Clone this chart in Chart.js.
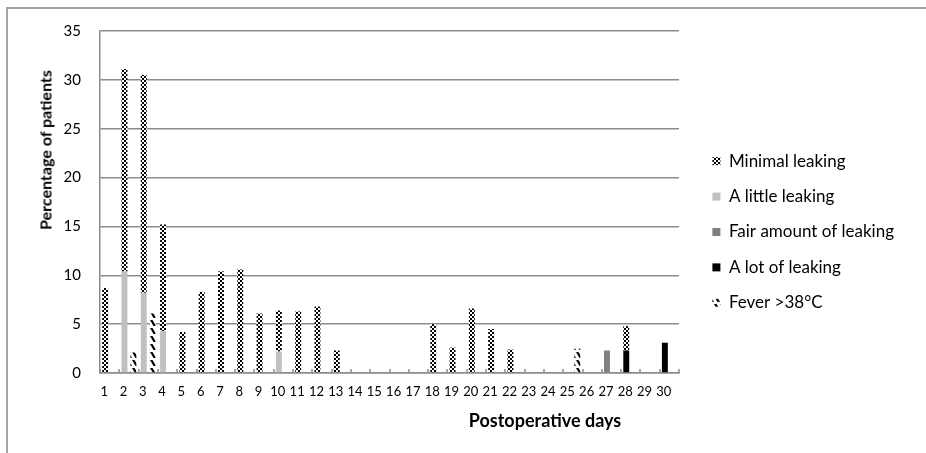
<!DOCTYPE html>
<html><head><meta charset="utf-8">
<script src="https://cdn.jsdelivr.net/npm/chart.js@4"></script>
<style>
html,body{margin:0;padding:0;background:#fff;}
#wrap{position:relative;width:926px;height:453px;overflow:hidden;}
#frame{position:absolute;left:6px;top:7px;width:1000px;height:1000px;border-left:2px solid #a5a5a5;border-top:2px solid #a5a5a5;}
canvas{position:absolute;left:0;top:0;}
.ttl{position:absolute;font-family:Lato, sans-serif;font-weight:bold;color:#000;white-space:nowrap;}
#xt{left:545px;top:420px;font-size:18px;transform:translate(-50%,-50%);}
#yt{left:45px;top:150px;font-size:16px;transform:translate(-50%,-50%) rotate(-90deg);}
</style></head>
<body><div id="wrap"><div id="frame"></div><canvas id="c" width="926" height="453"></canvas><div class="ttl" id="xt">Postoperative days</div><div class="ttl" id="yt">Percentage of patients</div></div>
<script>
const days = ['1','2','3','4','5','6','7','8','9','10','11','12','13','14','15','16','17','18','19','20','21','22','23','24','25','26','27','28','29','30'];
const minimalLeaking = [8.7,20.7,22.3,10.9,4.2,8.3,10.4,10.6,6.1,4.2,6.3,6.8,2.3,0,0,0,0,5.0,2.6,6.6,4.5,2.4,0,0,0,0,0,2.5,0,0];
const littleLeaking  = [0,10.4,8.2,4.3,0,0,0,0,0,2.2,0,0,0,0,0,0,0,0,0,0,0,0,0,0,0,0,0,0,0,0];
const fairLeaking    = [0,0,0,0,0,0,0,0,0,0,0,0,0,0,0,0,0,0,0,0,0,0,0,0,0,0,2.3,0,0,0];
const lotLeaking     = [0,0,0,0,0,0,0,0,0,0,0,0,0,0,0,0,0,0,0,0,0,0,0,0,0,0,0,2.3,0,3.1];
const fever          = [0,2.1,6.1,0,0,0,0,0,0,0,0,0,0,0,0,0,0,0,0,0,0,0,0,0,2.5,0,0,0,0,0];
const yTicks = [0,5,10,15,20,25,30,35];

const canvas = document.getElementById('c');
const ctx0 = canvas.getContext('2d');
function checkerPattern(){
  const t=document.createElement('canvas'); t.width=4; t.height=4;
  const g=t.getContext('2d'); g.fillStyle='#fff'; g.fillRect(0,0,4,4);
  g.fillStyle='#000'; g.fillRect(0,0,2,2); g.fillRect(2,2,2,2);
  return ctx0.createPattern(t,'repeat');
}
function feverPattern(){
  const t=document.createElement('canvas'); t.width=6; t.height=8;
  const g=t.getContext('2d'); g.fillStyle='#fff'; g.fillRect(0,0,6,8);
  g.fillStyle='#000'; g.beginPath(); g.moveTo(0,0); g.lineTo(2.5,0); g.lineTo(6,6); g.lineTo(3.5,6); g.closePath(); g.fill();
  return ctx0.createPattern(t,'repeat');
}

Chart.defaults.font.family = 'Lato, sans-serif';
Chart.defaults.color = '#000';

const innerTicks = {
  id:'innerTicks',
  afterDatasetsDraw(chart){
    const x=chart.scales.x, ctx=chart.ctx, b=chart.chartArea.bottom;
    ctx.save(); ctx.strokeStyle='#8c8c8c'; ctx.lineWidth=1.5; ctx.beginPath();
    for(let i=0;i<=days.length;i++){
      const px=Math.round(x.getPixelForValue(i-0.5));
      ctx.moveTo(px,b); ctx.lineTo(px,b-4);
    }
    ctx.stroke(); ctx.restore();
  }
};
const legendFix = {
  id:'legendFix',
  afterInit(chart){
    const lg = chart.legend; const orig = lg.fit;
    lg.fit = function(){ orig.call(this); this.width = 247; };
  },
  afterLayout(chart){
    const lg = chart.legend; lg.left += 15; lg.right += 15;
  }
};

const common = {borderWidth:0, categoryPercentage:0.93, barPercentage:0.66};
new Chart(canvas, {
  type:'bar',
  data:{
    labels: days,
    datasets:[
      Object.assign({label:'Minimal leaking', data:minimalLeaking, backgroundColor:checkerPattern(), stack:'leak', order:4}, common),
      Object.assign({label:'A little leaking', data:littleLeaking, backgroundColor:'#c0c0c0', stack:'leak', order:1}, common),
      Object.assign({label:'Fair amount of leaking', data:fairLeaking, backgroundColor:'#808080', stack:'leak', order:2}, common),
      Object.assign({label:'A lot of leaking', data:lotLeaking, backgroundColor:'#000000', stack:'leak', order:3}, common),
      Object.assign({label:'Fever >38°C', data:fever, backgroundColor:feverPattern(), stack:'fever', order:5}, common)
    ]
  },
  options:{
    responsive:false, animation:false, devicePixelRatio:1,
    layout:{padding:{top:31, bottom:20, left:0, right:0}},
    plugins:{
      tooltip:{enabled:false},
      legend:{
        position:'right',
        labels:{boxWidth:8, boxHeight:8, padding:18.4, font:{size:17}, color:'#000',
          sort:(a,b)=>a.datasetIndex-b.datasetIndex}
      }
    },
    scales:{
      x:{
        stacked:true,
        grid:{drawOnChartArea:false, drawTicks:false},
        border:{display:true, color:'#8c8c8c', width:1.5},
        ticks:{autoSkip:false, maxRotation:0, font:{size:13}, padding:11, labelOffset:-5.5, color:'#000'},
        afterFit(s){ s.height = 60; }
      },
      y:{
        stacked:true, min:0, max:35,
        afterBuildTicks(s){ s.ticks = yTicks.map(v=>({value:v})); },
        grid:{color:'#8c8c8c', lineWidth:1.5, drawTicks:false},
        border:{display:true, color:'#8c8c8c', width:1.5},
        ticks:{font:{size:15}, padding:19, color:'#000'},
        afterFit(s){ s.width = 100; }
      }
    }
  },
  plugins:[innerTicks, legendFix]
});
</script>
</body></html>
